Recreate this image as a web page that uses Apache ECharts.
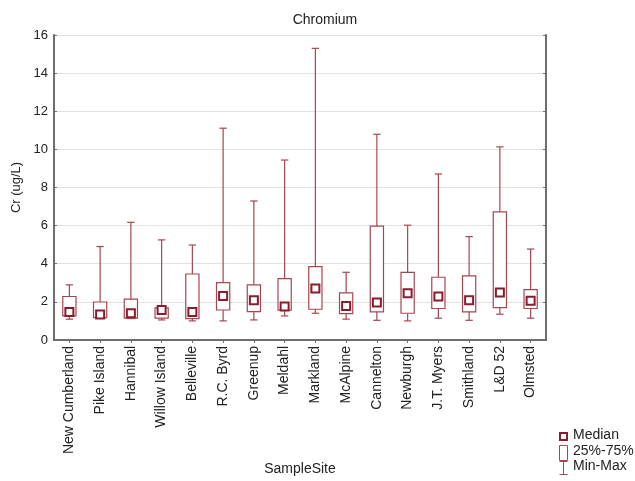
<!DOCTYPE html>
<html>
<head>
<meta charset="utf-8">
<script src="https://cdn.jsdelivr.net/npm/echarts@6/dist/echarts.min.js"></script>
<style>
  html, body { margin: 0; padding: 0; background: #fff; }
  #chart { width: 635px; height: 481px; }
</style>
</head>
<body>
<div id="chart"></div>
<script>
// Chromium concentration by sampling site (ug/L)
const sites = ['New Cumberland', 'Pike Island', 'Hannibal', 'Willow Island', 'Belleville',
  'R.C. Byrd', 'Greenup', 'Meldahl', 'Markland', 'McAlpine', 'Cannelton', 'Newburgh',
  'J.T. Myers', 'Smithland', 'L&D 52', 'Olmsted'];
const minVals    = [1.09, 1.13, 1.12, 1.05, 1.00, 1.00, 1.05, 1.26, 1.40, 1.09, 1.03, 1.00, 1.14, 1.03, 1.35, 1.14];
const q1Vals     = [1.26, 1.17, 1.14, 1.14, 1.12, 1.57, 1.49, 1.56, 1.61, 1.38, 1.47, 1.40, 1.65, 1.47, 1.70, 1.65];
const medianVals = [1.47, 1.33, 1.40, 1.57, 1.47, 2.31, 2.08, 1.75, 2.70, 1.78, 1.96, 2.45, 2.28, 2.08, 2.49, 2.05];
const q3Vals     = [2.28, 1.99, 2.14, 1.68, 3.46, 3.01, 2.89, 3.22, 3.85, 2.47, 5.97, 3.55, 3.29, 3.36, 6.72, 2.64];
const maxVals    = [2.89, 4.90, 6.17, 5.25, 4.98, 11.11, 7.29, 9.44, 15.30, 3.55, 10.79, 6.02, 8.71, 5.42, 10.13, 4.77];
const yTicks = [0, 2, 4, 6, 8, 10, 12, 14, 16];
const legendLabels = ['Median', '25%-75%', 'Min-Max'];

const boxColor = '#a8464f';
const medColor = '#8a1c2c';
const textColor = '#222';
const frameColor = '#6e6e6e';
const fontFamily = 'Liberation Sans, Arial, sans-serif';

const boxData = sites.map((s, i) => [i, minVals[i], q1Vals[i], medianVals[i], q3Vals[i], maxVals[i]]);
const medData = sites.map((s, i) => [i, medianVals[i]]);

// whiskers with short caps, then a white-filled interquartile box on top
function renderBox(params, api) {
  const i = api.value(0);
  const pMin = api.coord([i, api.value(1)]);
  const pQ1 = api.coord([i, api.value(2)]);
  const pQ3 = api.coord([i, api.value(4)]);
  const pMax = api.coord([i, api.value(5)]);
  const band = api.size([1, 0])[0];
  const bw = band * 0.43;
  const cw = band * 0.24;
  const x = pQ1[0];
  const lineStyle = { stroke: boxColor, lineWidth: 1.2, fill: null };
  return {
    type: 'group',
    children: [
      { type: 'line', shape: { x1: x, y1: pMax[1], x2: x, y2: pQ3[1] }, style: lineStyle },
      { type: 'line', shape: { x1: x, y1: pQ1[1], x2: x, y2: pMin[1] }, style: lineStyle },
      { type: 'line', shape: { x1: x - cw / 2, y1: pMax[1], x2: x + cw / 2, y2: pMax[1] }, style: lineStyle },
      { type: 'line', shape: { x1: x - cw / 2, y1: pMin[1], x2: x + cw / 2, y2: pMin[1] }, style: lineStyle },
      { type: 'rect', shape: { x: x - bw / 2, y: pQ3[1], width: bw, height: pQ1[1] - pQ3[1] },
        style: { stroke: boxColor, lineWidth: 1.2, fill: '#fff' } }
    ]
  };
}

// key in the lower right corner
const legendText = (label, y) => ({
  type: 'text', left: 573, top: y - 8,
  style: { text: label, fontSize: 14, fill: textColor, fontFamily: fontFamily }
});
const legendGraphics = [
  { type: 'rect', shape: { x: 560, y: 433, width: 7, height: 7 },
    style: { fill: '#fff', stroke: medColor, lineWidth: 2 } },
  legendText(legendLabels[0], 436),
  { type: 'rect', shape: { x: 559.5, y: 445.5, width: 8, height: 15 },
    style: { fill: '#fff', stroke: boxColor, lineWidth: 1 } },
  legendText(legendLabels[1], 452),
  { type: 'group', children: [
    { type: 'line', shape: { x1: 563.5, y1: 461.5, x2: 563.5, y2: 474.5 }, style: { stroke: boxColor, lineWidth: 1 } },
    { type: 'line', shape: { x1: 559.5, y1: 461.5, x2: 567.5, y2: 461.5 }, style: { stroke: boxColor, lineWidth: 1 } },
    { type: 'line', shape: { x1: 559.5, y1: 474.5, x2: 567.5, y2: 474.5 }, style: { stroke: boxColor, lineWidth: 1 } }
  ] },
  legendText(legendLabels[2], 467)
];

const chart = echarts.init(document.getElementById('chart'), null, { renderer: 'canvas' });
chart.setOption({
  backgroundColor: '#fff',
  animation: false,
  textStyle: { fontFamily: fontFamily },
  title: {
    text: 'Chromium',
    left: 320, top: 8, textAlign: 'center',
    textStyle: { fontSize: 14, fontWeight: 'normal', color: textColor }
  },
  graphic: legendGraphics,
  grid: { left: 54, right: 89, top: 35, bottom: 140 },
  xAxis: [{
    type: 'category',
    data: sites,
    boundaryGap: true,
    name: 'SampleSite',
    nameLocation: 'middle',
    nameGap: 121,
    nameTextStyle: { fontSize: 14, color: textColor },
    axisLine: { show: true, lineStyle: { color: frameColor, width: 2 } },
    axisTick: { show: true, alignWithLabel: true, length: 3, lineStyle: { color: frameColor } },
    axisLabel: { rotate: 90, fontSize: 14, color: textColor, margin: 6, interval: 0 },
    splitLine: { show: false }
  }, {
    type: 'category',
    data: sites,
    position: 'top',
    boundaryGap: true,
    axisLine: { show: true, lineStyle: { color: frameColor, width: 2 } },
    axisTick: { show: true, inside: true, alignWithLabel: true, length: 3, lineStyle: { color: frameColor } },
    axisLabel: { show: false },
    splitLine: { show: false }
  }],
  yAxis: [{
    type: 'value',
    min: 0, max: 16, interval: 2,
    name: 'Cr (ug/L)',
    nameLocation: 'middle',
    nameGap: 26,
    nameTextStyle: { fontSize: 13, color: textColor },
    axisLine: { show: true, lineStyle: { color: frameColor, width: 2 } },
    axisTick: { show: true, inside: true, length: 3, lineStyle: { color: frameColor } },
    axisLabel: { fontSize: 13, color: textColor, margin: 6,
      formatter: v => (yTicks.indexOf(v) >= 0 ? String(v) : '') },
    splitLine: { show: true, lineStyle: { color: '#e2e2e2', width: 1 } }
  }, {
    type: 'value',
    min: 0, max: 16, interval: 2,
    position: 'right',
    axisLine: { show: true, lineStyle: { color: frameColor, width: 2 } },
    axisTick: { show: true, inside: true, length: 3, lineStyle: { color: frameColor } },
    axisLabel: { show: false },
    splitLine: { show: false }
  }],
  series: [{
    name: '25%-75%',
    type: 'custom',
    xAxisIndex: 0, yAxisIndex: 0,
    renderItem: renderBox,
    encode: { x: 0, y: [1, 2, 3, 4, 5] },
    itemStyle: { color: boxColor },
    data: boxData,
    z: 2
  }, {
    name: 'Median',
    type: 'scatter',
    xAxisIndex: 0, yAxisIndex: 0,
    symbol: 'rect',
    symbolSize: 8,
    itemStyle: { color: '#fff', borderColor: medColor, borderWidth: 2, opacity: 1 },
    data: medData,
    z: 5
  }]
});
</script>
</body>
</html>
